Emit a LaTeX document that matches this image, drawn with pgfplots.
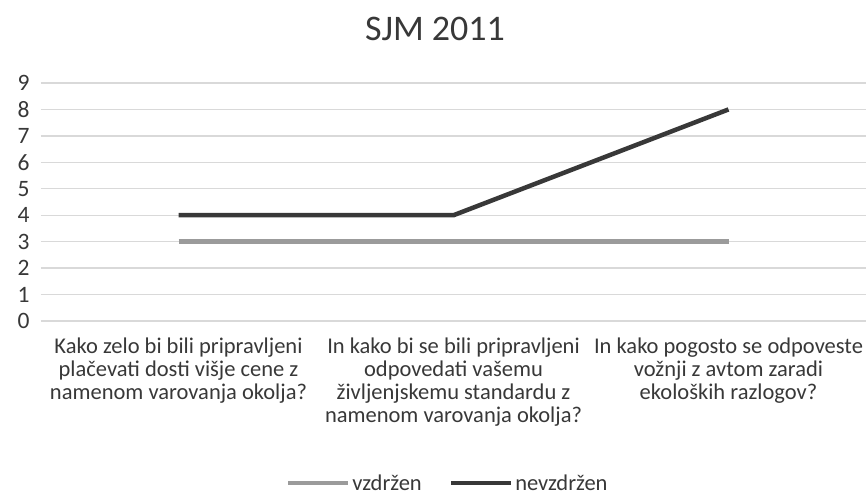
\documentclass[border=0pt]{standalone}
\usepackage{pgfplots}
\pgfplotsset{compat=1.18}
\usepackage{fontspec}
\setmainfont{Carlito}
\definecolor{gridc}{HTML}{D9D9D9}
\definecolor{lgray}{HTML}{9B9B9B}
\definecolor{ldark}{HTML}{383838}
\definecolor{txt}{HTML}{383838}
\begin{document}
\begin{tikzpicture}
\useasboundingbox (-41pt,-174pt) rectangle (826pt,321pt);
\begin{axis}[
  at={(0,0)}, anchor=south west,
  scale only axis, width=825pt, height=238pt,
  xmin=-0.5, xmax=2.5, ymin=0, ymax=9,
  axis line style={draw=none},
  major tick length=0pt,
  ytick={0,...,9},
  ymajorgrids, grid style={gridc, line width=1.3pt},
  xtick={0,1,2},
  xticklabels={{Kako zelo bi bili pripravljeni\\plačevati dosti višje cene z\\namenom varovanja okolja?},
               {In kako bi se bili pripravljeni\\odpovedati vašemu\\življenjskemu standardu z\\namenom varovanja okolja?},
               {In kako pogosto se odpoveste\\vožnji z avtom zaradi\\ekoloških razlogov?}},
  xticklabel style={align=center, anchor=north, yshift=-13pt, font=\fontsize{22.5}{23}\selectfont, text=txt},
  yticklabel style={font=\fontsize{23.5}{24}\selectfont, text=txt, xshift=-8pt},
  /pgf/number format/assume math mode=true,
  title={SJM 2011},
  title style={at={(axis description cs:0.4776,1)}, anchor=center, yshift=48pt, font=\fontsize{36}{40}\selectfont, text=txt},
  legend columns=2,
  legend style={draw=none, at={(axis description cs:0.493,0)}, anchor=center, yshift=-162pt,
    font=\fontsize{22.5}{24}\selectfont, text=txt,
    /tikz/every even column/.append style={column sep=25pt}},
  legend image code/.code={\draw[#1] (0pt,0pt) -- (60pt,0pt);},
]
\addplot[lgray, line width=4.5pt] coordinates {(0,3) (1,3) (2,3)};
\addlegendentry{vzdržen}
\addplot[ldark, line width=4.5pt] coordinates {(0,4) (1,4) (2,8)};
\addlegendentry{nevzdržen}
\end{axis}
\end{tikzpicture}
\end{document}
